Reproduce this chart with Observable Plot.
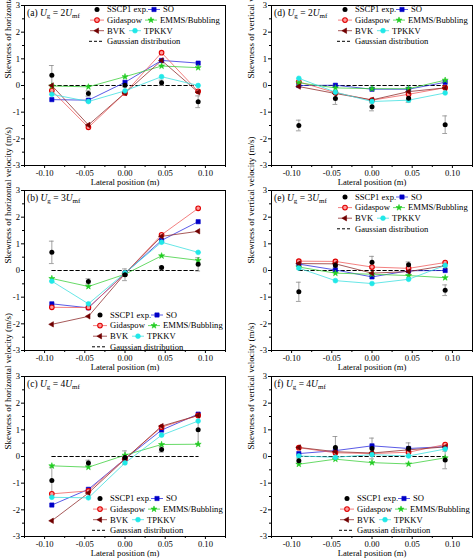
<!DOCTYPE html>
<html><head><meta charset="utf-8">
<script src="https://cdn.jsdelivr.net/npm/d3@7"></script>
<script src="https://cdn.jsdelivr.net/npm/@observablehq/plot@0.6"></script>
<style>
body{margin:0;background:#fff;}
#wrap{position:relative;width:474px;height:560px;background:#fff;overflow:hidden;}
#wrap > svg{position:absolute;}
</style></head><body><div id="wrap"></div>
<script>
// Lateral positions (m)
const xPos = [-0.091, -0.0455, 0, 0.0455, 0.091];
const gaussianZero = [0, 0, 0, 0, 0];
const xTicks = [-0.10, -0.05, 0.00, 0.05, 0.10];
const xMinor = [-0.125, -0.075, -0.025, 0.025, 0.075, 0.125];
const yTicks = [-3, -2, -1, 0, 1, 2, 3];
const yMinor = [-2.5, -1.5, -0.5, 0.5, 1.5, 2.5];

// (a) horizontal, Ug = 2Umf
const a_exp = [0.38, -0.30, 0.01, 0.10, -0.61];
const a_expErr = [0.37, 0.10, 0.06, 0.10, 0.22];
const a_SO = [-0.53, -0.55, 0.12, 0.94, 0.84];
const a_Gidaspow = [-0.19, -1.57, -0.28, 1.23, -0.22];
const a_EMMS = [-0.02, -0.05, 0.33, 0.73, 0.67];
const a_BVK = [0.00, -1.48, -0.28, 0.94, -0.25];
const a_TPKKV = [-0.33, -0.60, -0.20, 0.33, 0.00];

// (b) horizontal, Ug = 3Umf
const b_exp = [0.68, -0.41, -0.16, 0.11, 0.23];
const b_expErr = [0.42, 0.10, 0.22, 0.05, 0.25];
const b_SO = [-1.25, -1.40, -0.11, 1.13, 1.83];
const b_Gidaspow = [-1.38, -1.39, -0.12, 1.34, 2.33];
const b_EMMS = [-0.30, -0.60, -0.14, 0.55, 0.38];
const b_BVK = [-2.02, -1.72, -0.12, 1.28, 1.47];
const b_TPKKV = [-0.40, -1.25, -0.09, 1.06, 0.68];

// (c) horizontal, Ug = 4Umf
const c_exp = [-0.90, -0.24, -0.04, 0.26, 1.00];
const c_expErr = [0.50, 0.10, 0.25, 0.10, 0.55];
const c_SO = [-1.82, -1.23, -0.09, 0.99, 1.59];
const c_Gidaspow = [-1.40, -1.29, -0.08, 1.10, 1.54];
const c_EMMS = [-0.35, -0.40, 0.05, 0.45, 0.46];
const c_BVK = [-2.41, -1.37, -0.10, 1.14, 1.54];
const c_TPKKV = [-1.53, -1.55, -0.24, 0.80, 1.33];

// (d) vertical, Ug = 2Umf
const d_exp = [-1.50, -0.49, -0.80, -0.48, -1.47];
const d_expErr = [0.20, 0.22, 0.15, 0.15, 0.33];
const d_SO = [0.00, 0.01, -0.14, -0.14, 0.12];
const d_Gidaspow = [0.14, -0.27, -0.55, -0.33, -0.08];
const d_EMMS = [0.10, -0.09, -0.12, -0.12, 0.20];
const d_BVK = [-0.04, -0.30, -0.54, -0.23, -0.09];
const d_TPKKV = [0.27, -0.25, -0.60, -0.55, -0.28];

// (e) vertical, Ug = 3Umf
const e_exp = [-0.80, 0.19, 0.31, 0.22, -0.74];
const e_expErr = [0.36, 0.10, 0.22, 0.10, 0.20];
const e_SO = [0.24, 0.02, -0.24, -0.01, 0.00];
const e_Gidaspow = [0.35, 0.34, 0.13, 0.08, 0.30];
const e_EMMS = [0.13, -0.10, -0.14, -0.19, -0.27];
const e_BVK = [0.26, 0.25, -0.10, -0.04, 0.18];
const e_TPKKV = [0.09, -0.38, -0.49, -0.33, 0.19];

// (f) vertical, Ug = 4Umf
const f_exp = [-0.16, 0.34, 0.30, 0.31, -0.13];
const f_expErr = [0.10, 0.41, 0.39, 0.20, 0.33];
const f_SO = [0.11, 0.22, 0.40, 0.30, 0.37];
const f_Gidaspow = [0.33, 0.14, 0.11, 0.16, 0.45];
const f_EMMS = [-0.29, -0.10, -0.23, -0.28, -0.05];
const f_BVK = [0.34, 0.18, 0.13, 0.25, 0.36];
const f_TPKKV = [0.02, -0.03, 0.07, 0.02, 0.28];

const seriesStyle = {
  SO:       {label: "SO", line: "#3030e0", symbol: "square", r: 2.4, fill: "#0000c8", stroke: "#0000c8", rotate: 0},
  Gidaspow: {label: "Gidaspow", line: "#f06060", symbol: "circle", r: 2.3, fill: "#ff9a9a", stroke: "#e00000", rotate: 0},
  EMMS:     {label: "EMMS/Bubbling", line: "#40d040", symbol: "star", r: 1.9, fill: "#22cc22", stroke: "#22cc22", rotate: 0},
  BVK:      {label: "BVK", line: "#903030", symbol: "triangle", r: 2.0, fill: "#700000", stroke: "#700000", rotate: -90},
  TPKKV:    {label: "TPKKV", line: "#40e0e0", symbol: "circle", r: 2.4, fill: "#20e8e8", stroke: "#20e8e8", rotate: 0}
};
const seriesOrder = ["SO", "Gidaspow", "EMMS", "BVK", "TPKKV"];

const panels = [
  {id: "a", col: 0, top: 0,   ylab: "Skewness of horizontal velocity (m/s)", mult: "2", exp: a_exp, err: a_expErr, SO: a_SO, Gidaspow: a_Gidaspow, EMMS: a_EMMS, BVK: a_BVK, TPKKV: a_TPKKV, lx: 97, ly: 9.5},
  {id: "b", col: 0, top: 185, ylab: "Skewness of horizontal velocity (m/s)", mult: "3", exp: b_exp, err: b_expErr, SO: b_SO, Gidaspow: b_Gidaspow, EMMS: b_EMMS, BVK: b_BVK, TPKKV: b_TPKKV, lx: 100, ly: 130},
  {id: "c", col: 0, top: 371, ylab: "Skewness of horizontal velocity (m/s)", mult: "4", exp: c_exp, err: c_expErr, SO: c_SO, Gidaspow: c_Gidaspow, EMMS: c_EMMS, BVK: c_BVK, TPKKV: c_TPKKV, lx: 100, ly: 127.5},
  {id: "d", col: 1, top: 0,   ylab: "Skewness of vertical velocity (m/s)", mult: "2", exp: d_exp, err: d_expErr, SO: d_SO, Gidaspow: d_Gidaspow, EMMS: d_EMMS, BVK: d_BVK, TPKKV: d_TPKKV, lx: 108, ly: 9.5},
  {id: "e", col: 1, top: 185, ylab: "Skewness of vertical velocity (m/s)", mult: "3", exp: e_exp, err: e_expErr, SO: e_SO, Gidaspow: e_Gidaspow, EMMS: e_EMMS, BVK: e_BVK, TPKKV: e_TPKKV, lx: 108, ly: 12},
  {id: "f", col: 1, top: 371, ylab: "Skewness of vertical velocity (m/s)", mult: "4", exp: f_exp, err: f_expErr, SO: f_SO, Gidaspow: f_Gidaspow, EMMS: f_EMMS, BVK: f_BVK, TPKKV: f_TPKKV, lx: 110, ly: 127.5}
];

const FONT = "'Liberation Serif', 'Times New Roman', serif";
const wrap = document.getElementById("wrap");

function symPath(name, r) {
  const map = {circle: d3.symbolCircle, square: d3.symbolSquare, star: d3.symbolStar, triangle: d3.symbolTriangle};
  return d3.symbol(map[name], Math.PI * r * r)();
}

function addMarker(g, key, x, y) {
  const s = seriesStyle[key];
  g.append("path").attr("d", symPath(s.symbol, s.r))
    .attr("transform", `translate(${x},${y}) rotate(${s.rotate})`)
    .attr("fill", s.fill).attr("stroke", s.stroke).attr("stroke-width", key === "Gidaspow" ? 1.1 : 0.6);
}

function drawLegend(svg, ox, oy) {
  const g = svg.append("g").attr("font-family", FONT).attr("font-size", 8.6)
    .attr("fill", "#000").attr("text-anchor", "start");
  const step = 10.6;
  g.append("circle").attr("cx", ox).attr("cy", oy).attr("r", 2.5).attr("fill", "#000");
  g.append("text").attr("x", ox + 10).attr("y", oy).attr("dy", "0.33em").text("SSCP1 exp.");
  const first = [["Gidaspow", 1], ["BVK", 2]];
  const second = [["SO", 57, 0], ["EMMS", 54, 1], ["TPKKV", 38, 2]];
  first.forEach(([k, r]) => {
    const yy = oy + r * step;
    g.append("line").attr("x1", ox - 7).attr("x2", ox + 7).attr("y1", yy).attr("y2", yy)
      .attr("stroke", seriesStyle[k].line).attr("stroke-width", 0.8);
    addMarker(g, k, ox, yy);
    g.append("text").attr("x", ox + 10).attr("y", yy).attr("dy", "0.33em").text(seriesStyle[k].label);
  });
  second.forEach(([k, off, r]) => {
    const yy = oy + r * step;
    const mx = ox + off;
    g.append("line").attr("x1", mx - 6).attr("x2", mx + 6).attr("y1", yy).attr("y2", yy)
      .attr("stroke", seriesStyle[k].line).attr("stroke-width", 0.8);
    addMarker(g, k, mx, yy);
    g.append("text").attr("x", mx + 9).attr("y", yy).attr("dy", "0.33em").text(seriesStyle[k].label);
  });
  const yy = oy + 3 * step;
  g.append("line").attr("x1", ox - 8).attr("x2", ox + 7).attr("y1", yy).attr("y2", yy)
    .attr("stroke", "#000").attr("stroke-width", 1).attr("stroke-dasharray", "3,2");
  g.append("text").attr("x", ox + 10).attr("y", yy).attr("dy", "0.33em").text("Gaussian distribution");
}

function drawTitle(svg, x, id, mult) {
  const t = svg.append("text").attr("x", x).attr("y", 16).attr("font-family", FONT)
    .attr("font-size", 9.5).attr("fill", "#000").attr("text-anchor", "start");
  t.append("tspan").text(`(${id}) `);
  t.append("tspan").attr("font-style", "italic").text("U");
  t.append("tspan").attr("font-size", 7).attr("dy", 2.2).text("g");
  t.append("tspan").attr("dy", -2.2).text(` = ${mult}`);
  t.append("tspan").attr("font-style", "italic").text("U");
  t.append("tspan").attr("font-size", 7).attr("dy", 2.2).text("mf");
}

panels.forEach(p => {
  const ml = p.col === 0 ? 24 : 34;
  const mr = p.col === 0 ? 12 : 2;
  const expRows = xPos.map((x, i) => ({x, y: p.exp[i], e: p.err[i]}));
  const gauss = xPos.map((x, i) => ({x, y: gaussianZero[i]}));
  const marks = [
    Plot.axisY({ticks: yMinor, tickSize: 2, fill: "none", label: null}),
    Plot.axisY({ticks: yTicks, tickSize: 3, tickPadding: 1.5, tickFormat: d => String(d), label: null}),
    Plot.axisX({ticks: xMinor, tickSize: 2, fill: "none", label: null}),
    Plot.axisX({ticks: xTicks, tickSize: 3, tickPadding: 1, tickFormat: d => d.toFixed(2), label: null}),
    Plot.text([p.ylab], {frameAnchor: "left", dx: p.col === 0 ? -16 : -20, dy: -7, rotate: -90, fontSize: 9}),
    Plot.text(["Lateral position (m)"], {frameAnchor: "bottom", dy: 19, fontSize: 8.6}),
    Plot.lineY(gauss, {x: "x", y: "y", stroke: "#000", strokeWidth: 1, strokeDasharray: "3.5,2.5"}),
    Plot.ruleX(expRows, {x: "x", y1: d => d.y - d.e, y2: d => d.y + d.e, stroke: "#8a8a8a", strokeWidth: 0.8}),
    Plot.ruleY(expRows, {y: d => d.y + d.e, x1: d => d.x - 0.003, x2: d => d.x + 0.003, stroke: "#8a8a8a", strokeWidth: 0.8}),
    Plot.ruleY(expRows, {y: d => d.y - d.e, x1: d => d.x - 0.003, x2: d => d.x + 0.003, stroke: "#8a8a8a", strokeWidth: 0.8})
  ];
  seriesOrder.forEach(k => {
    const rows = xPos.map((x, i) => ({x, y: p[k][i]}));
    marks.push(Plot.line(rows, {x: "x", y: "y", stroke: seriesStyle[k].line, strokeWidth: 0.8}));
  });
  seriesOrder.forEach(k => {
    const s = seriesStyle[k];
    const rows = xPos.map((x, i) => ({x, y: p[k][i]}));
    marks.push(Plot.dot(rows, {x: "x", y: "y", symbol: s.symbol, r: s.r, fill: s.fill, stroke: s.stroke,
      strokeWidth: k === "Gidaspow" ? 1.1 : 0.6, rotate: s.rotate}));
  });
  marks.push(Plot.dot(expRows, {x: "x", y: "y", r: 2.5, fill: "#000"}));
  marks.push(Plot.frame({stroke: "#000", strokeWidth: 1}));

  const svgEl = Plot.plot({
    width: 237, height: 186,
    marginTop: 5, marginBottom: 21, marginLeft: ml, marginRight: mr,
    x: {domain: [-0.125, 0.125]},
    y: {domain: [-3, 3]},
    style: {fontFamily: FONT, fontSize: "8.6px", color: "#000", background: "transparent", overflow: "visible"},
    marks
  });
  svgEl.style.left = (p.col === 0 ? 0 : 237) + "px";
  svgEl.style.top = p.top + "px";
  wrap.appendChild(svgEl);
  const svg = d3.select(svgEl);
  drawTitle(svg, ml + 3, p.id, p.mult);
  drawLegend(svg, p.lx, p.ly);
});
</script></body></html>
